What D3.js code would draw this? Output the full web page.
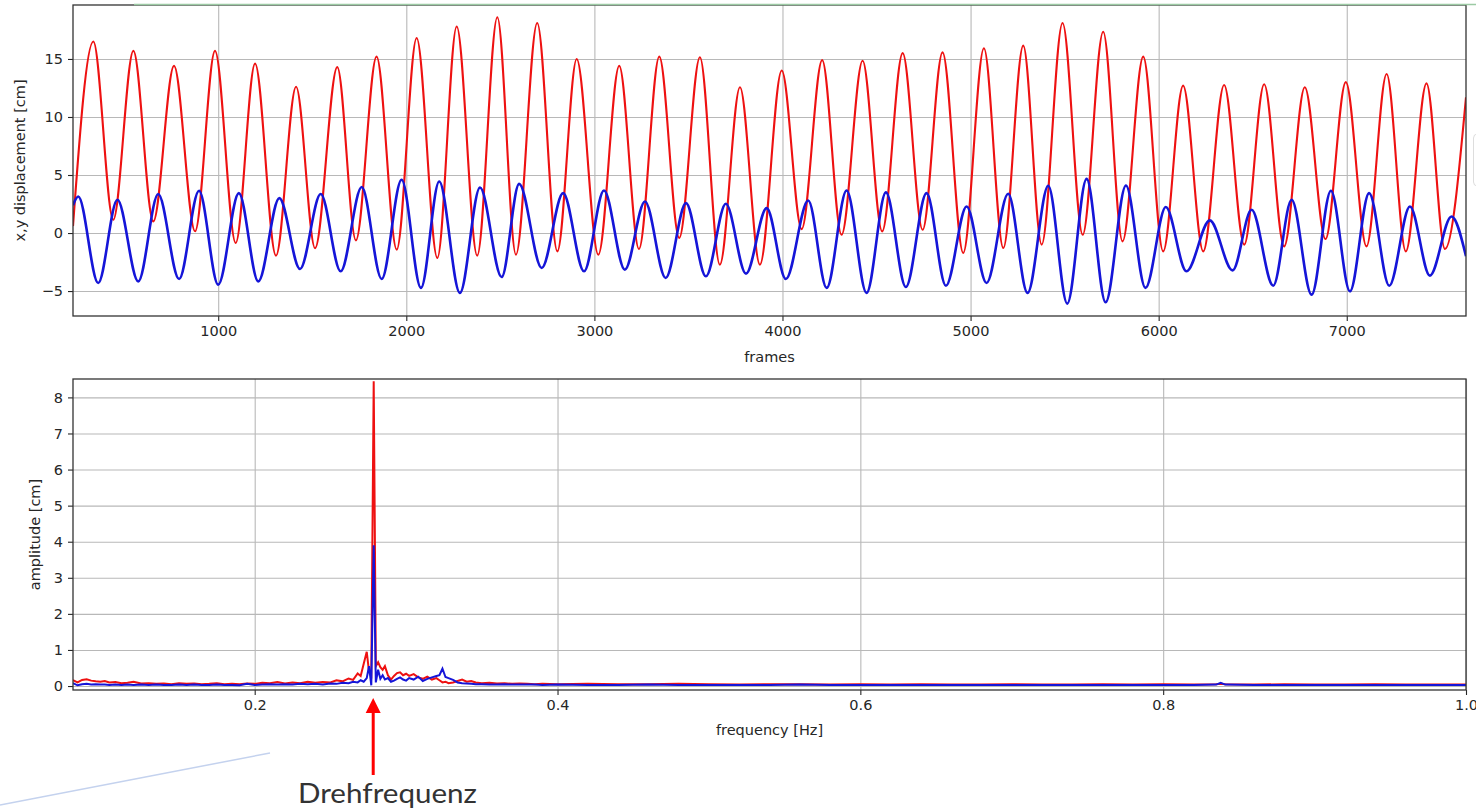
<!DOCTYPE html>
<html>
<head>
<meta charset="utf-8">
<script src="https://cdn.jsdelivr.net/npm/d3@7"></script>
<style>
  body { margin: 0; background: #fff; }
  svg { display: block; }
  .tick text { font-family: "DejaVu Sans", sans-serif; font-size: 14.5px; fill: #262626; }
  .tick line { stroke: #262626; }
  .grid line { stroke: #b8b8b8; stroke-width: 1.1; }
  .grid path { display: none; }
  .lbl { font-family: "DejaVu Sans", sans-serif; font-size: 14.5px; fill: #262626; }
</style>
</head>
<body>
<div id="chart"></div>
<script>
// ---- data ---------------------------------------------------------------
// top panel: x displacement (red) peaks / troughs, [frame, cm]
const redPeaks = [
  [336,16.5],[549,15.7],[765,14.4],[983,15.7],[1196,14.6],[1414,12.6],[1633,14.3],[1842,15.2],
  [2055,16.8],[2268,17.8],[2484,18.6],[2696,18.1],[2906,15.0],[3132,14.4],[3345,15.2],[3561,15.15],
  [3774,12.56],[3996,14.0],[4211,14.9],[4426,14.85],[4639,15.5],[4851,15.57],[5071,15.92],[5280,16.15],
  [5489,18.1],[5705,17.35],[5918,15.2],[6130,12.7],[6348,12.76],[6561,12.82],[6777,12.56],[6995,13.0],
  [7212,13.7],[7424,12.9]
];
const redTroughs = [
  [442,1.15],[655,1.0],[877,0.15],[1093,-0.86],[1307,-1.95],[1515,-1.3],[1732,-0.63],[1949,-1.43],
  [2165,-2.15],[2377,-1.95],[2583,-1.87],[2803,-1.58],[3021,-1.87],[3237,-1.38],[3451,-0.43],[3667,-2.73],
  [3880,-2.73],[4102,0.34],[4314,-0.15],[4530,0.14],[4745,0.28],[4961,-1.72],[5174,-1.29],[5378,-1.0],
  [5596,-0.15],[5808,-0.72],[6024,-1.58],[6237,-1.58],[6455,-1.0],[6667,-1.15],[6887,-0.52],[7105,-1.15],
  [7314,-1.58],[7522,-1.38]
];
const redEnds = [[228,0.6],[7634,11.7]];

// y displacement (blue)
const bluePeaks = [
  [256,3.15],[464,2.87],[681,3.36],[898,3.64],[1110,3.44],[1325,3.01],[1545,3.36],[1763,3.96],
  [1975,4.59],[2175,4.44],[2392,3.92],[2600,4.24],[2834,3.44],[3051,3.67],[3269,2.72],[3487,2.58],
  [3699,2.52],[3916,2.15],[4137,2.8],[4341,3.67],[4550,3.5],[4766,3.44],[4979,2.29],[5200,3.38],
  [5413,4.07],[5617,4.67],[5826,4.1],[6038,2.24],[6272,1.09],[6494,2.0],[6707,2.87],[6916,3.64],
  [7119,3.44],[7336,2.29],[7557,1.43]
];
const blueTroughs = [
  [362,-4.3],[575,-4.17],[792,-3.96],[1000,-4.45],[1213,-4.17],[1435,-3.1],[1651,-3.3],[1869,-3.96],
  [2078,-4.73],[2285,-5.16],[2507,-3.79],[2720,-3.01],[2945,-3.3],[3162,-3.16],[3379,-3.87],[3593,-3.73],
  [3806,-3.5],[4018,-3.96],[4235,-4.73],[4447,-5.16],[4656,-4.65],[4869,-4.54],[5085,-4.3],[5303,-5.16],
  [5514,-6.08],[5718,-5.97],[5930,-4.73],[6148,-3.3],[6393,-3.22],[6609,-4.54],[6813,-5.31],[7017,-5.02],
  [7226,-4.54],[7442,-3.67]
];
const blueEnds = [[228,2.4],[7634,-2.0]];

// bottom panel: amplitude spectrum
const freqs = [
  0.080,0.083,0.086,0.089,0.092,0.095,0.098,0.101,0.104,0.108,0.112,0.116,0.120,0.125,0.130,0.135,
  0.140,0.145,0.150,0.155,0.160,0.165,0.170,0.175,0.180,0.185,0.190,0.195,0.200,0.205,0.210,0.215,
  0.220,0.225,0.230,0.235,0.240,0.245,0.250,0.254,0.258,0.262,0.265,0.268,0.270,0.272,0.274,0.2755,
  0.2770,0.2786,0.2800,0.2815,0.283,0.2845,0.286,0.288,0.290,0.292,0.294,0.296,0.298,0.300,0.302,0.305,
  0.308,0.311,0.314,0.317,0.320,0.322,0.324,0.326,0.328,0.331,0.334,0.337,0.340,0.343,0.346,0.350,
  0.355,0.360,0.365,0.370,0.375,0.380,0.385,0.390,0.400,0.420,0.440,0.460,0.480,0.500,0.520,0.540,
  0.560,0.580,0.600,0.620,0.640,0.660,0.680,0.700,0.720,0.740,0.760,0.780,0.800,0.820,0.835,0.838,
  0.841,0.860,0.880,0.900,0.920,0.940,0.960,0.980,1.000
];
const ampX = [
  0.16,0.10,0.17,0.19,0.15,0.13,0.12,0.14,0.10,0.11,0.08,0.09,0.12,0.07,0.08,0.06,
  0.07,0.05,0.08,0.06,0.07,0.05,0.06,0.08,0.05,0.06,0.05,0.07,0.06,0.09,0.08,0.11,
  0.07,0.10,0.08,0.12,0.09,0.11,0.10,0.16,0.13,0.21,0.17,0.35,0.28,0.62,0.95,0.40,
  0.30,8.45,0.55,0.66,0.52,0.45,0.55,0.30,0.18,0.28,0.36,0.38,0.30,0.34,0.28,0.33,
  0.24,0.20,0.26,0.18,0.22,0.16,0.10,0.12,0.08,0.10,0.14,0.18,0.12,0.14,0.10,0.08,
  0.09,0.07,0.08,0.06,0.07,0.06,0.05,0.06,0.05,0.06,0.05,0.05,0.06,0.05,0.04,0.05,
  0.05,0.04,0.05,0.04,0.05,0.04,0.04,0.05,0.04,0.04,0.05,0.04,0.05,0.04,0.05,0.06,
  0.05,0.04,0.05,0.04,0.04,0.05,0.04,0.04,0.04
];
const ampY = [
  0.08,0.02,0.05,0.06,0.04,0.05,0.04,0.04,0.03,0.04,0.03,0.04,0.03,0.04,0.03,0.04,
  0.03,0.03,0.04,0.03,0.04,0.03,0.03,0.04,0.03,0.03,0.02,0.06,0.03,0.04,0.05,0.04,
  0.05,0.04,0.06,0.05,0.06,0.04,0.07,0.06,0.09,0.08,0.12,0.10,0.16,0.12,0.22,0.55,
  0.02,3.90,0.10,0.45,0.20,0.30,0.18,0.22,0.12,0.15,0.20,0.24,0.18,0.15,0.22,0.18,
  0.26,0.14,0.20,0.24,0.28,0.30,0.48,0.25,0.22,0.17,0.10,0.08,0.07,0.06,0.05,0.05,
  0.04,0.04,0.05,0.04,0.04,0.04,0.04,0.03,0.04,0.03,0.03,0.04,0.03,0.03,0.03,0.03,
  0.04,0.03,0.03,0.03,0.03,0.03,0.03,0.03,0.03,0.03,0.03,0.03,0.03,0.03,0.04,0.09,
  0.04,0.03,0.03,0.03,0.03,0.03,0.03,0.03,0.03
];

const topXTicks = [1000,2000,3000,4000,5000,6000,7000];
const topYTicks = [-5,0,5,10,15];
const botXTicks = [0.2,0.4,0.6,0.8,1.0];
const botYTicks = [0,1,2,3,4,5,6,7,8];

// ---- set up ---------------------------------------------------------------
const svgWidth = 1476, svgHeight = 810;
const left = 73, right = 1466;

const svg = d3.select("#chart").append("svg")
  .attr("width", svgWidth)
  .attr("height", svgHeight);

const byFrame = (a, b) => a[0] - b[0];
const redSeries = redPeaks.concat(redTroughs, redEnds).sort(byFrame);
const blueSeries = bluePeaks.concat(blueTroughs, blueEnds).sort(byFrame);

// panel helper: grid, axes, frame
function panel(id, top, bottom, x, y, xTicks, yTicks, xFmt) {
  const g = svg.append("g");
  g.append("clipPath").attr("id", id)
    .append("rect").attr("x", left).attr("y", top).attr("width", right - left).attr("height", bottom - top);

  g.append("g").attr("class", "grid")
    .attr("transform", `translate(0,${bottom})`)
    .call(d3.axisBottom(x).tickValues(xTicks).tickSize(-(bottom - top)).tickFormat(""));
  g.append("g").attr("class", "grid")
    .attr("transform", `translate(${left},0)`)
    .call(d3.axisLeft(y).tickValues(yTicks).tickSize(-(right - left)).tickFormat(""));

  const xa = g.append("g")
    .attr("transform", `translate(0,${bottom})`)
    .call(d3.axisBottom(x).tickValues(xTicks).tickSize(5).tickPadding(5).tickFormat(xFmt));
  xa.select(".domain").remove();
  const ya = g.append("g")
    .attr("transform", `translate(${left},0)`)
    .call(d3.axisLeft(y).tickValues(yTicks).tickSize(5).tickPadding(5).tickFormat(d => d < 0 ? "\u2212" + Math.abs(d) : d));
  ya.select(".domain").remove();
  g.selectAll(".tick line").attr("stroke-width", 1.1);
  return g;
}

// ---- top panel ------------------------------------------------------------
const top1 = 5, bot1 = 316;
const x1 = d3.scaleLinear().domain([228, 7634]).range([left, right]);
const y1 = d3.scaleLinear().domain([-7.15, 19.65]).range([bot1, top1]);
const p1 = panel("clipTop", top1, bot1, x1, y1, topXTicks, topYTicks, d3.format("d"));

const line1 = d3.line().x(d => x1(d[0])).y(d => y1(d[1])).curve(d3.curveMonotoneX);
p1.append("path").datum(redSeries)
  .attr("clip-path", "url(#clipTop)")
  .attr("d", line1).attr("fill", "none").attr("stroke", "#ee1111").attr("stroke-width", 2.1);
p1.append("path").datum(blueSeries)
  .attr("clip-path", "url(#clipTop)")
  .attr("d", line1).attr("fill", "none").attr("stroke", "#1515d8").attr("stroke-width", 2.6);

p1.append("rect").attr("x", left).attr("y", top1).attr("width", right - left).attr("height", bot1 - top1)
  .attr("fill", "none").attr("stroke", "#333").attr("stroke-width", 1.3);
// green strip over the top edge
p1.append("line").attr("x1", 134).attr("x2", svgWidth).attr("y1", 4.5).attr("y2", 4.5)
  .attr("stroke", "#9ccaa4").attr("stroke-width", 1.5);

svg.append("text").attr("class", "lbl")
  .attr("x", (left + right) / 2).attr("y", 362).attr("text-anchor", "middle").text("frames");
svg.append("text").attr("class", "lbl")
  .attr("transform", `translate(25,${(top1 + bot1) / 2}) rotate(-90)`)
  .attr("text-anchor", "middle").text("x,y displacement [cm]");

// ---- bottom panel ---------------------------------------------------------
const top2 = 379, bot2 = 690;
const x2 = d3.scaleLinear().domain([0.08, 1.0]).range([left, right]);
const y2 = d3.scaleLinear().domain([-0.11, 8.51]).range([bot2, top2]);
const p2 = panel("clipBot", top2, bot2, x2, y2, botXTicks, botYTicks, d3.format(".1f"));

const spec = freqs.map((f, i) => ({ f: f, ax: ampX[i], ay: ampY[i] }));
p2.append("path").datum(spec)
  .attr("clip-path", "url(#clipBot)")
  .attr("d", d3.line().x(d => x2(d.f)).y(d => y2(d.ax)))
  .attr("fill", "none").attr("stroke", "#ee1111").attr("stroke-width", 2);
p2.append("path").datum(spec)
  .attr("clip-path", "url(#clipBot)")
  .attr("d", d3.line().x(d => x2(d.f)).y(d => y2(d.ay)))
  .attr("fill", "none").attr("stroke", "#1515d8").attr("stroke-width", 2);

p2.append("rect").attr("x", left).attr("y", top2).attr("width", right - left).attr("height", bot2 - top2)
  .attr("fill", "none").attr("stroke", "#333").attr("stroke-width", 1.3);

svg.append("text").attr("class", "lbl")
  .attr("x", (left + right) / 2).attr("y", 735).attr("text-anchor", "middle").text("frequency [Hz]");
svg.append("text").attr("class", "lbl")
  .attr("transform", `translate(40,${(top2 + bot2) / 2}) rotate(-90)`)
  .attr("text-anchor", "middle").text("amplitude [cm]");

// ---- annotation -----------------------------------------------------------
const peakF = 0.2786;
const ax = x2(peakF) - 0.5;
svg.append("line").attr("x1", ax).attr("x2", ax).attr("y1", 775).attr("y2", 708)
  .attr("stroke", "#ff0000").attr("stroke-width", 3);
svg.append("path")
  .attr("d", `M${ax},698 L${ax - 7.5},713 L${ax + 7.5},713 Z`)
  .attr("fill", "#ff0000");
svg.append("text")
  .attr("x", 298).attr("y", 803)
  .attr("font-family", "Lato, 'Open Sans', sans-serif").attr("font-size", 26)
  .attr("textLength", 179).attr("lengthAdjust", "spacingAndGlyphs")
  .attr("fill", "#333").text("Drehfrequenz");

// leftover screenshot details
svg.append("line").attr("x1", 0).attr("y1", 805).attr("x2", 270).attr("y2", 753)
  .attr("stroke", "#c4d2ee").attr("stroke-width", 1.5);
svg.append("rect").attr("x", 1473.5).attr("y", 134).attr("width", 20).attr("height", 52).attr("rx", 4)
  .attr("fill", "none").attr("stroke", "#dddddd").attr("stroke-width", 1);
</script>
</body>
</html>
